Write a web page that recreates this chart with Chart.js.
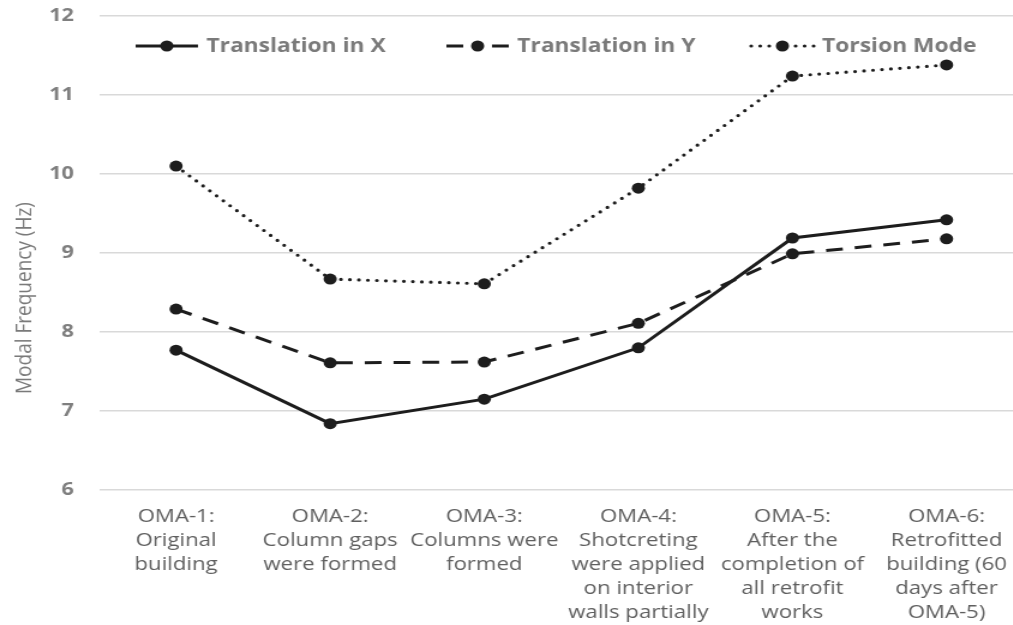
<!DOCTYPE html>
<html>
<head>
<meta charset="utf-8">
<script src="https://cdn.jsdelivr.net/npm/chart.js@4.4.1/dist/chart.umd.min.js"></script>
<style>
  html, body { margin: 0; padding: 0; background: #ffffff; overflow: hidden; }
  #wrap {
    position: absolute; left: 0; top: 0;
    width: 860px; height: 625px;
    transform: scaleX(1.2); transform-origin: 0 0;
  }
</style>
</head>
<body>
<div id="wrap"><canvas id="chart"></canvas></div>
<script>
// Observation stages (multi-line category labels)
const categories = [
  ['OMA-1:', 'Original', 'building'],
  ['OMA-2:', 'Column gaps', 'were formed'],
  ['OMA-3:', 'Columns were', 'formed'],
  ['OMA-4:', 'Shotcreting', 'were applied', 'on interior', 'walls partially'],
  ['OMA-5:', 'After the', 'completion of', 'all retrofit', 'works'],
  ['OMA-6:', 'Retrofitted', 'building (60', 'days after', 'OMA-5)']
];

// Modal frequencies (Hz)
const translationX = [7.77, 6.84, 7.15, 7.80, 9.19, 9.42];
const translationY = [8.29, 7.61, 7.62, 8.11, 8.99, 9.18];
const torsionMode  = [10.10, 8.67, 8.61, 9.82, 11.24, 11.38];

// Frequency axis range and step
const yRange = [6, 12];
const yStep = 1;

const seriesNames = ['Translation in X', 'Translation in Y', 'Torsion Mode'];

const ink = '#1d1d1d';
const greyText = '#7a7a7a';

function lineSeries(label, data, dash, width, cap) {
  return {
    label, data,
    borderColor: ink,
    backgroundColor: ink,
    borderWidth: width,
    borderDash: dash,
    borderCapStyle: cap,
    pointRadius: 5.5,
    pointHoverRadius: 5.5,
    pointBorderWidth: 0,
    pointBackgroundColor: ink,
    tension: 0,
    fill: false
  };
}

// Legend row drawn inside the plot area
const seriesKey = {
  id: 'seriesKey',
  afterDraw(chart) {
    const ctx = chart.ctx;
    const y = 46;
    const starts = [113, 372, 626];
    const len = 52;
    chart.data.datasets.forEach((ds, i) => {
      const x0 = starts[i], x1 = x0 + len, xm = (x0 + x1) / 2;
      ctx.save();
      ctx.strokeStyle = ds.borderColor;
      ctx.lineWidth = ds.borderWidth;
      ctx.lineCap = ds.borderCapStyle || 'butt';
      ctx.setLineDash(ds.borderDash || []);
      ctx.beginPath(); ctx.moveTo(x0, y); ctx.lineTo(xm, y); ctx.stroke();
      ctx.beginPath(); ctx.moveTo(x1, y); ctx.lineTo(xm, y); ctx.stroke();
      ctx.setLineDash([]);
      ctx.fillStyle = ds.pointBackgroundColor;
      ctx.beginPath(); ctx.arc(xm, y, ds.pointRadius, 0, Math.PI * 2); ctx.fill();
      ctx.font = 'bold 19px "Open Sans"';
      ctx.fillStyle = greyText;
      ctx.textAlign = 'left';
      ctx.textBaseline = 'middle';
      ctx.fillText(ds.label, x1 + 7, y + 1);
      ctx.restore();
    });
  }
};

// Vertical axis title
const axisTitle = {
  id: 'axisTitle',
  afterDraw(chart) {
    const ctx = chart.ctx;
    ctx.save();
    ctx.translate(21, 298);
    ctx.rotate(-Math.PI / 2);
    ctx.font = '19px "Open Sans"';
    ctx.fillStyle = greyText;
    ctx.textAlign = 'center';
    ctx.textBaseline = 'middle';
    ctx.fillText('Modal Frequency (Hz)', 0, 0);
    ctx.restore();
  }
};

new Chart(document.getElementById('chart'), {
  type: 'line',
  data: {
    labels: categories,
    datasets: [
      lineSeries(seriesNames[0], translationX, [], 3, 'butt'),
      lineSeries(seriesNames[1], translationY, [14, 10], 3, 'butt'),
      lineSeries(seriesNames[2], torsionMode, [0, 7.5], 3.2, 'round')
    ]
  },
  options: {
    responsive: true,
    maintainAspectRatio: false,
    animation: false,
    layout: { padding: { top: 16, right: 7, bottom: 0, left: 0 } },
    plugins: {
      legend: { display: false },
      tooltip: { enabled: false }
    },
    scales: {
      x: {
        offset: true,
        grid: { display: false, drawTicks: false },
        border: { display: false },
        ticks: {
          color: '#5f5f5f',
          font: { family: 'Open Sans', size: 18.5, lineHeight: 1.3 },
          padding: 15,
          maxRotation: 0,
          autoSkip: false
        },
        afterFit(scale) { scale.height = 135; }
      },
      y: {
        min: yRange[0],
        max: yRange[1],
        grid: { color: '#d9d9d9', lineWidth: 1.5, drawTicks: false },
        border: { display: false },
        ticks: {
          stepSize: yStep,
          color: '#7f7f7f',
          font: { family: 'Open Sans', size: 18, weight: 'bold' },
          padding: 21
        },
        afterFit(scale) {
          scale.width = 82.5;
          scale.paddingTop = 0;
          scale.paddingBottom = 0;
        }
      }
    }
  },
  plugins: [seriesKey, axisTitle]
});
</script>
</body>
</html>
